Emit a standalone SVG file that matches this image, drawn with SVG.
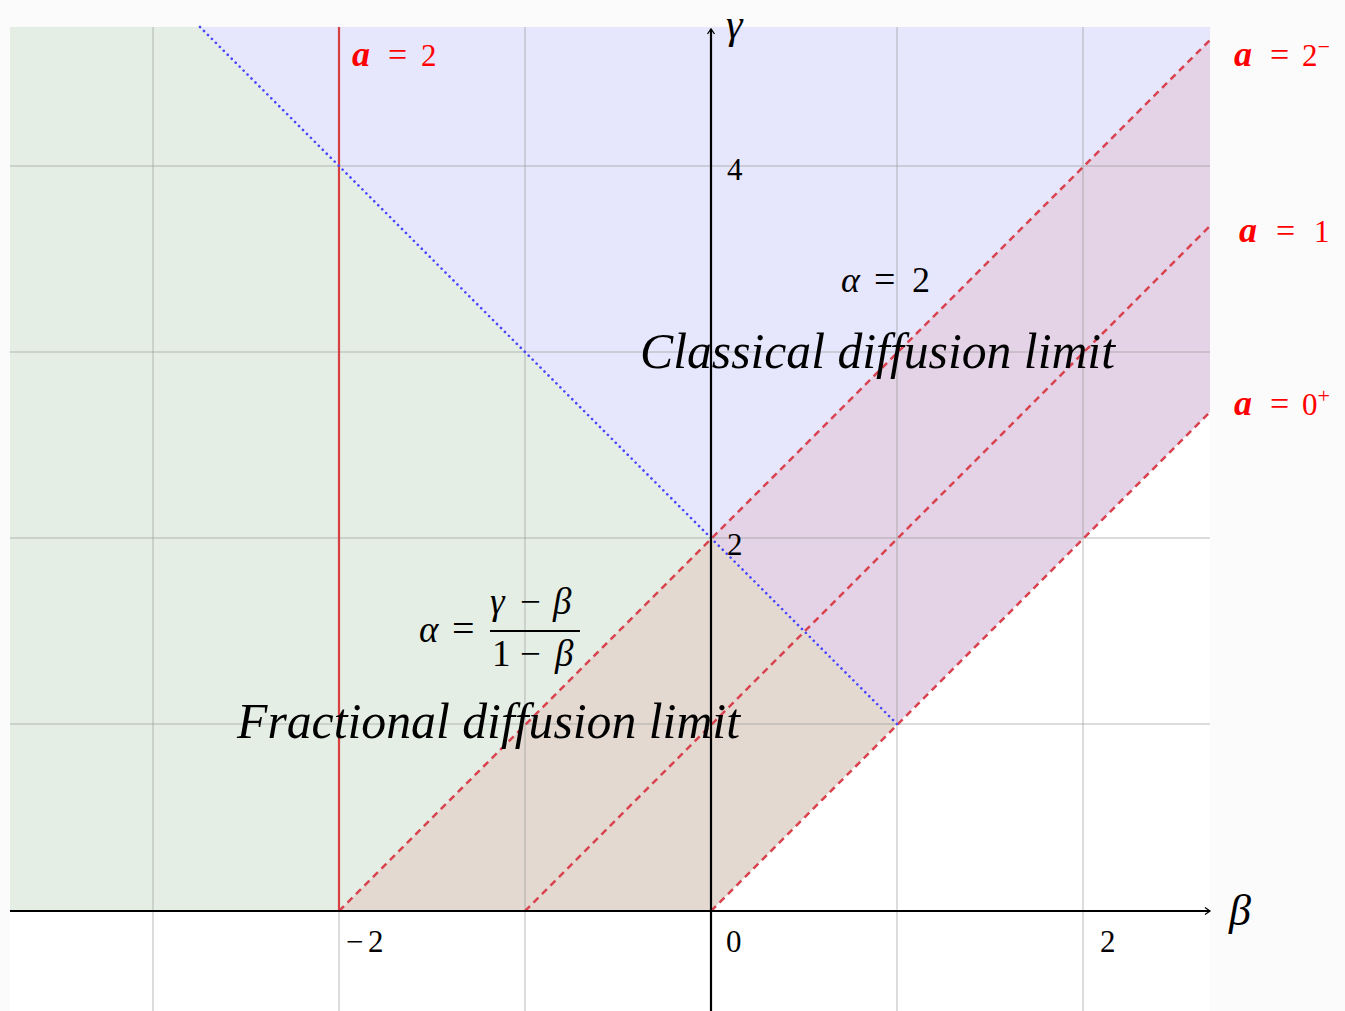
<svg xmlns="http://www.w3.org/2000/svg" width="1345" height="1011" viewBox="0 0 1345 1011">
<defs>
<style>
.grid{stroke:#9a9a9a;stroke-opacity:0.45;stroke-width:1.5}
.axis{stroke:#000;stroke-width:2.2;fill:none}
.red{fill:#ff0000;font-family:"Liberation Serif",serif;font-size:31px}
.ra{font-weight:bold;font-style:italic;font-size:36px}
.tick{fill:#000;font-family:"Liberation Serif",serif;font-size:31px}
.math{fill:#000;font-family:"Liberation Serif",serif;font-style:italic}
.up{font-style:normal}
.big{fill:#000;font-family:"Liberation Serif",serif;font-style:italic;font-size:50px}
.dash{stroke:#d9434f;stroke-width:2.5;stroke-dasharray:7 5;fill:none}
.dot{stroke:#4848f8;stroke-width:2.6;stroke-dasharray:0.1 5.5;stroke-linecap:round;fill:none}
</style>
<marker id="arr" markerWidth="10" markerHeight="10" refX="8" refY="5" orient="auto" markerUnits="userSpaceOnUse">
<polyline points="3,1.5 8,5 3,8.5" fill="none" stroke="#000" stroke-width="1.3"/>
</marker>
</defs>
<rect x="0" y="0" width="1345" height="1011" fill="#fbfbfb"/>
<rect x="10" y="27" width="1200" height="984" fill="#ffffff"/>
<g id="regions">
<polygon id="green" points="10,27 200,27 711,538 339,911 10,911" fill="#e5eee5"/>
<polygon id="blue" points="200,27 1210,27 1210,40 711,538" fill="#e6e6fc"/>
<polygon id="purple" points="711,538 1210,40 1210,412 897,724" fill="#e4d2e6"/>
<polygon id="brown" points="339,911 711,538 897,724 711,911" fill="#e3d9d0"/>
</g>
<g id="grid">
<line class="grid" x1="153" y1="27" x2="153" y2="1011"/>
<line class="grid" x1="339" y1="27" x2="339" y2="1011"/>
<line class="grid" x1="525" y1="27" x2="525" y2="1011"/>
<line class="grid" x1="897" y1="27" x2="897" y2="1011"/>
<line class="grid" x1="1083" y1="27" x2="1083" y2="1011"/>
<line class="grid" x1="10" y1="166" x2="1210" y2="166"/>
<line class="grid" x1="10" y1="352" x2="1210" y2="352"/>
<line class="grid" x1="10" y1="538" x2="1210" y2="538"/>
<line class="grid" x1="10" y1="724" x2="1210" y2="724"/>
</g>
<g id="connectors">
<line id="a2-solid" x1="339" y1="27" x2="339" y2="911" stroke="#d84040" stroke-width="2.2"/>
<line class="dash" x1="339" y1="911" x2="1210" y2="40"/>
<line class="dash" x1="525" y1="911" x2="1210" y2="226"/>
<line class="dash" x1="711" y1="911" x2="1210" y2="412"/>
<line class="dot" x1="200" y1="27" x2="897" y2="724"/>
<line class="axis" x1="10" y1="911" x2="1210" y2="911" marker-end="url(#arr)"/>
<line class="axis" x1="711" y1="1011" x2="711" y2="29" marker-end="url(#arr)"/>
</g>
<g id="axis-labels">
<text class="math" x="726" y="38" font-size="42">γ</text>
<text class="math" x="1229" y="925" font-size="44">β</text>
<text class="tick" x="727" y="180">4</text>
<text class="tick" x="727" y="555">2</text>
<text class="tick" x="726" y="952">0</text>
<text class="tick" x="346" y="952">−<tspan x="368">2</tspan></text>
<text class="tick" x="1100" y="952">2</text>
</g>
<g id="red-labels">
<text class="red" x="352" y="66"><tspan class="ra">a</tspan><tspan x="388" font-size="34">=</tspan><tspan x="421">2</tspan></text>
<text class="red" x="1234" y="66"><tspan class="ra">a</tspan><tspan x="1270" font-size="34">=</tspan><tspan x="1302">2</tspan><tspan dy="-12" font-size="22">−</tspan></text>
<text class="red" x="1239" y="242"><tspan class="ra">a</tspan><tspan x="1276" font-size="34">=</tspan><tspan x="1314">1</tspan></text>
<text class="red" x="1234" y="415"><tspan class="ra">a</tspan><tspan x="1270" font-size="34">=</tspan><tspan x="1302">0</tspan><tspan dy="-12" font-size="22">+</tspan></text>
</g>
<g id="classical">
<text class="math" x="841" y="292" font-size="36">α<tspan class="up" x="874" font-size="38">=</tspan><tspan class="up" x="912">2</tspan></text>
<text class="big" x="640" y="368" textLength="475" lengthAdjust="spacingAndGlyphs">Classical diffusion limit</text>
</g>
<g id="fractional">
<text class="math" x="419" y="642" font-size="37">α<tspan class="up" x="452" font-size="40">=</tspan></text>
<text class="math" x="490" y="614" font-size="37">γ<tspan class="up" x="520">−</tspan><tspan x="553">β</tspan></text>
<line x1="490" y1="631" x2="580" y2="631" stroke="#000" stroke-width="2"/>
<text class="math" x="492" y="666" font-size="37"><tspan class="up">1</tspan><tspan class="up" x="520">−</tspan><tspan x="555">β</tspan></text>
<text class="big" x="237" y="738" textLength="503" lengthAdjust="spacingAndGlyphs">Fractional diffusion limit</text>
</g>
</svg>
